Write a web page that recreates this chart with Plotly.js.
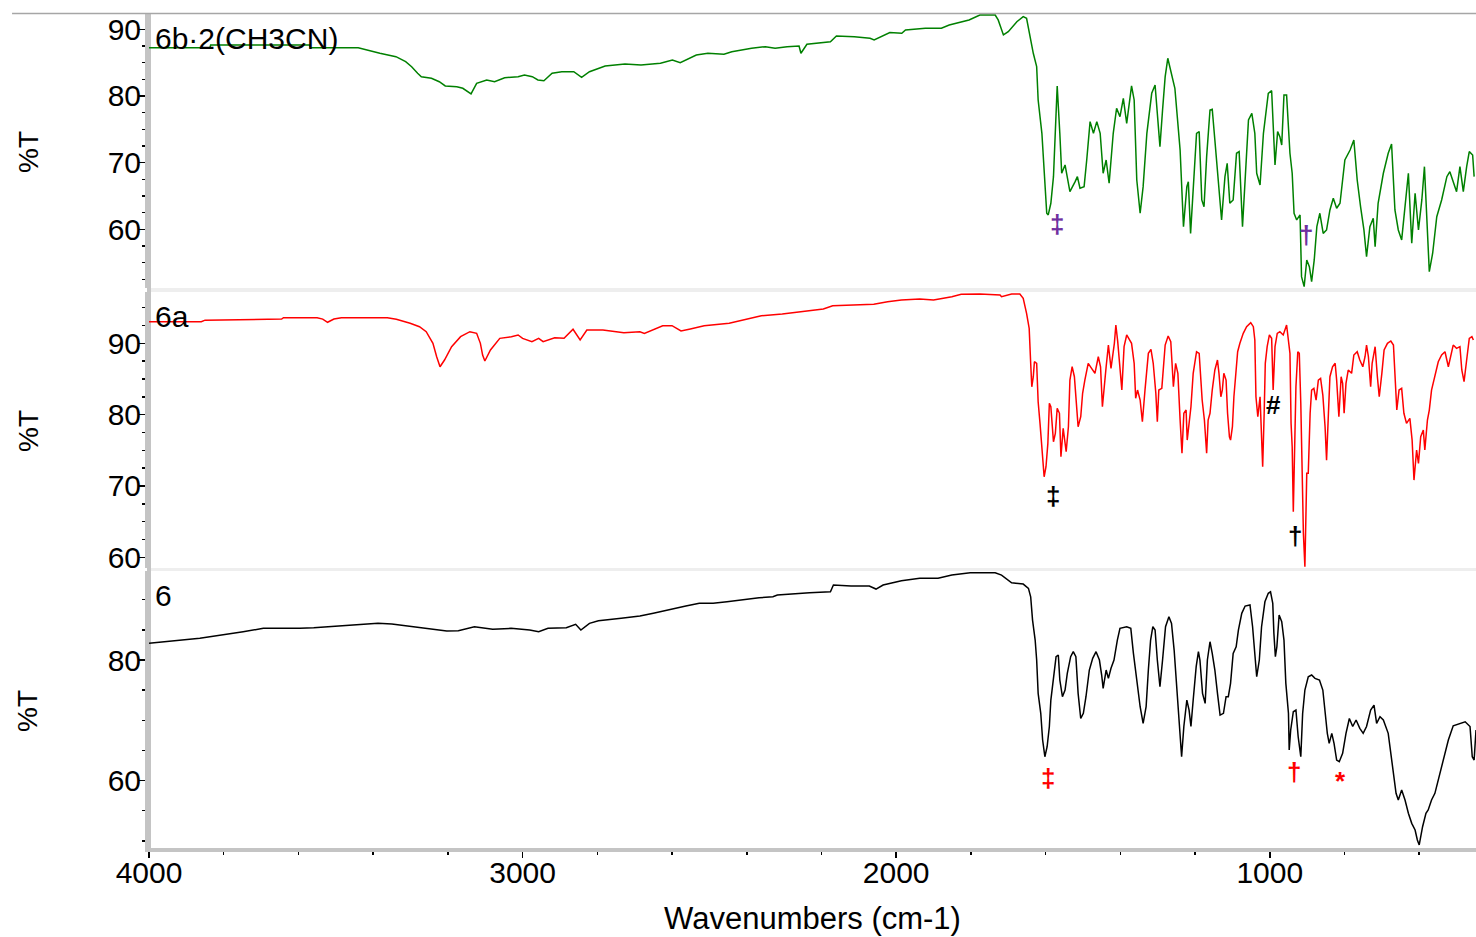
<!DOCTYPE html>
<html><head><meta charset="utf-8">
<script src="https://cdn.plot.ly/plotly-3.0.1.min.js"></script>
<style>html,body{margin:0;padding:0;background:#fff}#chart{width:1476px;height:937px}</style>
</head><body><div id="chart"></div>
<script>
// ---------- data: wavenumber (cm-1) and %T ----------
const topLabel = '6b\u00b72(CH3CN)';
const midLabel = '6a';
const botLabel = '6';

const topWn = [4000, 3837, 3835, 3570, 3568, 3440, 3382, 3339, 3313, 3297,
  3281, 3271, 3244, 3223, 3207, 3176, 3160, 3138, 3123, 3096,
  3075, 3048, 3012, 2995, 2974, 2959, 2943, 2921, 2895, 2863,
  2842, 2821, 2779, 2726, 2683, 2631, 2599, 2578, 2535, 2504,
  2461, 2440, 2387, 2350, 2324, 2292, 2260, 2255, 2239, 2186,
  2176, 2160, 2112, 2070, 2059, 2017, 1985, 1975, 1922, 1879,
  1858, 1805,
  1776, 1735, 1727, 1713, 1700, 1677, 1660, 1651, 1642, 1633,
  1624, 1620, 1610, 1602, 1597, 1593, 1586, 1579, 1572, 1569,
  1562, 1557, 1548, 1542, 1535, 1521, 1515, 1508, 1497, 1490,
  1481, 1472, 1463, 1454, 1446, 1438, 1430, 1419, 1410, 1401,
  1392, 1383, 1370, 1363, 1356, 1347, 1339, 1329, 1316, 1307,
  1298, 1294, 1287, 1280, 1273, 1263, 1254, 1240, 1231, 1222,
  1218, 1212, 1205, 1196, 1189, 1182, 1176, 1169, 1160, 1154,
  1147, 1138, 1129, 1120, 1114, 1107, 1098, 1089, 1082, 1073,
  1066, 1057, 1048, 1040, 1035, 1026, 1017, 1004, 995, 989,
  986, 979, 973, 968, 962, 955, 946, 940, 935, 928,
  919, 915, 908, 901, 894, 888, 881, 874, 866, 857,
  848, 839, 830, 821, 812, 799, 785, 775, 766, 757,
  748, 741, 732, 723, 718, 710, 696, 683, 674, 665,
  656, 647, 638, 629, 620, 611, 602, 593, 586, 580,
  573, 564, 553, 540, 526, 518, 509, 500, 491, 482,
  473, 466, 457, 453];
const topT = [87.24, 87.24, 87.65, 87.65, 87.24, 87.24, 86.4, 85.89, 85.14, 84.39,
  83.4, 82.89, 82.65, 82.14, 81.5, 81.39, 81.15, 80.3, 81.9, 82.4,
  82.14, 82.74, 82.89, 83.15, 82.89, 82.4, 82.29, 83.4, 83.64, 83.64,
  82.8, 83.64, 84.5, 84.8, 84.65, 84.9, 85.4, 84.99, 86.15, 86.4,
  86.25, 86.64, 87.15, 87.39, 87.15, 87.39, 87.5, 86.4, 87.75, 88.05,
  88.14, 88.99, 88.89, 88.65, 88.4, 89.5, 89.4, 89.9, 90.15, 90.15,
  90.64, 91.39,
  92.14, 92.14, 91.4, 89.15, 89.64, 91.14, 91.89, 91.65, 88.89, 86.4,
  84.39, 79.4, 74.4, 66.9, 62.41, 62.16, 63.91, 67.9, 76.9, 81.5,
  74.4, 68.41, 69.65, 67.9, 65.65, 67.15, 67.9, 66.16, 66.4, 70.4,
  76.15, 74.4, 76.15, 74.4, 68.41, 70.4, 66.91, 74.4, 78.16, 76.9,
  79.65, 75.9, 81.5, 79.4, 67.4, 62.41, 66.4, 74.4, 80.4, 81.65,
  74.4, 72.4, 77.9, 82.89, 85.65, 83.15, 81.15, 71.9, 60.4, 66.4,
  67.15, 59.4, 66.4, 74.4, 74.65, 64.41, 63.4, 70.9, 77.9, 78.0,
  73.4, 67.4, 61.41, 67.9, 69.91, 63.91, 64.41, 71.41, 71.65, 60.4,
  67.4, 76.4, 77.4, 74.4, 68.41, 66.66, 74.4, 80.4, 80.79, 74.4,
  69.65, 74.65, 73.9, 72.65, 80.15, 80.15, 71.41, 68.41, 62.41, 61.41,
  62.16, 52.91, 51.41, 55.41, 54.41, 52.16, 55.41, 60.4, 62.41, 59.4,
  59.91, 62.91, 64.66, 63.16, 63.91, 70.4, 71.9, 73.4, 67.4, 63.4,
  59.91, 55.9, 60.4, 61.66, 57.41, 63.91, 68.41, 71.41, 72.8, 62.91,
  59.91, 58.41, 63.4, 68.41, 57.91, 65.41, 59.91, 64.41, 69.4, 62.41,
  53.66, 56.42, 61.9, 64.41, 67.9, 68.65, 67.15, 65.65, 69.4, 65.65,
  69.4, 71.65, 71.15, 67.9];

const midWn = [4000, 3860, 3850, 3790, 3740, 3645, 3640, 3550, 3535, 3522,
  3505, 3485, 3362, 3338, 3301, 3276, 3258, 3240, 3230, 3221,
  3209, 3190, 3166, 3141, 3123, 3113, 3107, 3101, 3086, 3061,
  3030, 3012, 3000, 2975, 2957, 2945, 2914, 2889, 2865, 2846,
  2828, 2785, 2729, 2686, 2674, 2625, 2600, 2576, 2551, 2514,
  2447, 2391, 2361, 2305, 2256, 2195, 2170, 2109, 2060, 2023,
  1986, 1937, 1900, 1851, 1826,
  1776, 1722, 1718, 1691, 1669, 1660, 1651, 1644, 1640, 1637,
  1633, 1630, 1624, 1620, 1615, 1611, 1608, 1604, 1599, 1594,
  1590, 1586, 1579, 1574, 1569, 1563, 1559, 1553, 1545, 1539,
  1535, 1529, 1523, 1517, 1513, 1506, 1501, 1495, 1486, 1477,
  1468, 1459, 1453, 1448, 1444, 1438, 1432, 1425, 1416, 1412,
  1407, 1401, 1396, 1390, 1383, 1370, 1363, 1359, 1354, 1347,
  1341, 1334, 1325, 1318, 1312, 1305, 1301, 1297, 1289, 1280,
  1272, 1265, 1258, 1252, 1246, 1240, 1235, 1230, 1224, 1221,
  1215, 1211, 1205, 1196, 1189, 1185, 1181, 1175, 1169, 1165,
  1160, 1154, 1147, 1140, 1136, 1131, 1127, 1123, 1117, 1113,
  1108, 1105, 1100, 1096, 1090, 1086, 1080, 1071, 1062, 1051,
  1044, 1040, 1037, 1032, 1026, 1022, 1019, 1015, 1012, 1007,
  1001, 995, 991, 986, 980, 973, 964, 955, 950, 946,
  943, 940, 937, 933, 930, 925, 921, 917, 914, 910,
  906, 901, 897, 892, 888, 882, 876, 870, 864, 858,
  852, 848, 843, 839, 832, 825, 821, 815, 809, 805,
  801, 796, 790, 781, 775, 766, 759, 751, 745, 741,
  736, 730, 726, 718, 712, 707, 700, 694, 685, 676,
  669, 665, 660, 654, 647, 641, 634, 625, 619, 614,
  607, 602, 596, 589, 585, 578, 573, 567, 558, 549,
  540, 531, 522, 515, 509, 500, 491, 486, 480, 473,
  466, 459, 455];
const midT = [93.03, 93.03, 93.25, 93.3, 93.41, 93.41, 93.59, 93.59, 93.4, 92.95,
  93.4, 93.6, 93.6, 93.37, 92.81, 92.33, 91.63, 90.0, 88.12, 86.72,
  87.66, 89.53, 90.93, 91.63, 91.4, 90.0, 88.36, 87.52, 89.06, 90.7,
  90.93, 91.17, 90.7, 90.23, 90.7, 90.23, 90.79, 90.7, 91.97, 90.47,
  91.87, 91.87, 91.49, 91.63, 91.4, 92.47, 92.47, 91.73, 92.01, 92.47,
  92.81, 93.51, 93.87, 94.11, 94.43, 94.81, 95.28, 95.37, 95.47, 95.84,
  96.08, 96.22, 96.08, 96.54, 96.88,
  96.92, 96.78, 96.54, 96.92, 96.92, 96.31, 94.21, 92.1, 87.2, 83.91,
  85.32, 87.42, 87.2, 81.81, 78.78, 75.74, 73.17, 71.29, 72.7, 75.98,
  81.59, 81.11, 76.2, 77.38, 80.89, 80.19, 74.1, 78.08, 74.8, 78.31,
  84.85, 86.72, 85.32, 80.19, 78.31, 79.71, 83.0, 84.85, 87.2, 86.5,
  85.8, 88.12, 86.72, 81.11, 83.0, 86.72, 89.76, 86.5, 90.0, 92.57,
  90.23, 86.26, 83.45, 89.53, 91.17, 90.0, 87.2, 82.29, 83.45, 82.05,
  79.01, 83.45, 88.6, 89.16, 87.2, 83.0, 79.01, 83.45, 83.69, 89.76,
  91.03, 90.23, 83.91, 87.2, 85.8, 79.25, 74.58, 80.19, 80.65, 76.44,
  79.71, 81.11, 85.8, 88.82, 88.6, 85.32, 82.05, 79.25, 74.58, 79.25,
  80.19, 83.45, 86.26, 87.66, 85.8, 82.51, 83.45, 85.8, 84.85, 80.19,
  76.9, 76.44, 78.31, 82.51, 86.96, 88.82, 90.0, 91.4, 92.33, 92.89,
  92.33, 90.47, 82.51, 79.71, 82.51, 75.04, 72.7, 80.19, 87.2, 89.53,
  91.17, 90.7, 83.45, 89.53, 91.4, 91.63, 91.17, 92.57, 90.23, 88.6,
  78.78, 75.5, 66.39, 77.84, 83.91, 88.82, 88.6, 81.59, 71.29, 63.35,
  58.67, 71.77, 71.77, 80.19, 83.45, 83.69, 82.05, 84.85, 85.09, 82.75,
  78.31, 73.63, 80.19, 85.32, 86.72, 87.2, 84.85, 79.71, 85.32, 84.39,
  80.19, 84.39, 86.26, 85.8, 88.36, 88.82, 87.66, 86.72, 88.12, 89.76,
  88.12, 83.91, 87.2, 89.53, 85.32, 82.51, 85.8, 89.06, 90.0, 90.33,
  89.76, 85.8, 80.65, 83.45, 83.69, 80.19, 78.78, 79.48, 76.44, 70.83,
  75.04, 73.17, 76.9, 77.84, 75.04, 79.25, 80.65, 83.45, 85.32, 87.42,
  88.36, 88.82, 86.72, 88.36, 89.76, 89.3, 89.53, 86.26, 84.62, 87.66,
  90.7, 90.93, 90.47];

const botWn = [4000, 3864, 3748, 3694, 3596, 3559, 3454, 3387, 3350, 3289,
  3227, 3203, 3172, 3129, 3080, 3031, 2981, 2957, 2932, 2883,
  2858, 2844, 2821, 2797, 2736, 2686, 2650, 2613, 2563, 2527,
  2490, 2453, 2416, 2367, 2330, 2318, 2232, 2176, 2168, 2121,
  2072, 2054, 2035, 1986, 1937, 1888, 1851, 1802,
  1776, 1735, 1718, 1691, 1660, 1646, 1640, 1635, 1628, 1624,
  1620, 1613, 1608, 1602, 1596, 1590, 1586, 1579, 1572, 1566,
  1562, 1555, 1548, 1542, 1533, 1526, 1519, 1513, 1506, 1499,
  1492, 1483, 1474, 1465, 1456, 1450, 1446, 1438, 1432, 1425,
  1417, 1408, 1401, 1383, 1372, 1365, 1356, 1347, 1339, 1331,
  1325, 1319, 1313, 1307, 1301, 1294, 1287, 1279, 1270, 1263,
  1256, 1249, 1242, 1236, 1230, 1222, 1216, 1211, 1205, 1197,
  1191, 1187, 1180, 1173, 1167, 1160, 1154, 1147, 1140, 1133,
  1124, 1117, 1111, 1105, 1098, 1090, 1084, 1075, 1066, 1053,
  1046, 1040, 1035, 1028, 1022, 1013, 1004, 998, 992, 989,
  985, 981, 975, 968, 962, 957, 950, 948, 944, 937,
  930, 924, 917, 912, 906, 897, 888, 879, 867, 858,
  852, 846, 841, 834, 828, 821, 814, 805, 796, 787,
  778, 769, 759, 750, 741, 730, 721, 714, 705, 696,
  683, 669, 662, 656, 647, 638, 629, 620, 611, 605,
  600, 591, 582, 576, 567, 558, 549, 536, 522, 509,
  491, 477, 464, 458, 453, 448];
const botT = [82.8, 83.6, 84.7, 85.25, 85.25, 85.35, 85.8, 86.08, 85.97, 85.52,
  85.09, 84.81, 84.86, 85.52, 85.09, 85.25, 84.97, 84.69, 85.25, 85.35,
  85.92, 84.97, 86.08, 86.51, 86.91, 87.29, 87.74, 88.29, 88.95, 89.4,
  89.4, 89.66, 89.95, 90.33, 90.49, 90.77, 91.16, 91.32, 92.44, 92.27,
  92.27, 91.77, 92.44, 93.15, 93.55, 93.55, 94.09, 94.47,
  94.47, 94.47, 94.09, 92.81, 92.6, 91.88, 90.49, 86.63, 83.31, 80.0,
  74.47, 71.16, 66.73, 63.96, 65.62, 68.97, 73.36, 77.23, 80.55, 80.83,
  76.68, 73.91, 75.02, 77.79, 80.55, 81.38, 80.55, 74.47, 70.3, 71.16,
  73.91, 78.34, 80.28, 81.38, 80.0, 77.51, 75.3, 78.34, 76.96, 78.62,
  80.0, 83.31, 85.25, 85.52, 85.25, 81.1, 76.13, 72.25, 69.5, 72.25,
  78.34, 83.31, 85.52, 84.97, 80.0, 75.57, 80.0, 85.52, 87.18, 86.08,
  81.65, 75.57, 70.05, 63.96, 68.97, 73.36, 71.7, 68.97, 73.36, 78.89,
  81.38, 80.0, 74.47, 72.81, 80.0, 83.03, 81.1, 78.34, 74.47, 70.87,
  71.16, 73.91, 73.91, 76.13, 81.1, 82.2, 84.97, 87.74, 88.95, 89.12,
  85.52, 80.0, 77.23, 80.0, 85.52, 89.66, 91.06, 91.32, 89.4, 84.42,
  80.55, 82.2, 87.46, 86.35, 83.31, 76.13, 71.16, 65.07, 68.39, 71.42,
  71.7, 67.27, 63.96, 71.16, 75.02, 77.23, 77.51, 76.96, 76.68, 75.02,
  71.16, 67.84, 66.18, 67.84, 66.18, 63.41, 63.13, 64.52, 67.84, 70.3,
  68.97, 70.05, 68.67, 67.84, 68.97, 71.7, 72.53, 69.5, 70.6, 70.05,
  67.84, 61.2, 57.89, 56.78, 58.44, 56.78, 54.58, 52.91, 51.8, 50.15,
  49.32, 52.35, 54.58, 55.12, 56.78, 57.89, 60.1, 63.41, 66.73, 69.1,
  69.5, 69.76, 68.97, 63.96, 63.41, 68.39];

// band-assignment marks (symbol, wavenumber, %T on that panel's scale)
const topMarkSym = ['\u2021', '\u2020'];
const topMarkWn = [1570, 903];
const topMarkT = [60.8, 59.2];
const midMarkSym = ['\u2021', '#', '\u2020'];
const midMarkWn = [1581, 990, 932];
const midMarkT = [68.6, 81.35, 62.98];
const botMarkSym = ['\u2021', '\u2020', '*'];
const botMarkWn = [1594, 935, 810];
const botMarkT = [60.4, 61.4, 60.0];

const xTickVals = [4000, 3000, 2000, 1000];
const xTickText = ['4000', '3000', '2000', '1000'];

// ---------- checks ----------
[[topWn, topT], [midWn, midT], [botWn, botT]].forEach(function (p, i) {
  if (p[0].length !== p[1].length) throw new Error('length mismatch ' + i + ': ' + p[0].length + ' vs ' + p[1].length);
});

// ---------- figure ----------
const FONT = 'Liberation Sans, Arial, sans-serif';
const AXGRAY = '#c4c4c4';

const traces = [
  {x: topWn, y: topT, xaxis: 'x', yaxis: 'y3', mode: 'lines', line: {color: '#008000', width: 1.5}, hoverinfo: 'skip'},
  {x: midWn, y: midT, xaxis: 'x', yaxis: 'y2', mode: 'lines', line: {color: '#ff0000', width: 1.5}, hoverinfo: 'skip'},
  {x: botWn, y: botT, xaxis: 'x', yaxis: 'y', mode: 'lines', line: {color: '#000000', width: 1.5}, hoverinfo: 'skip'}
];

function yax(domain, range, dtick, minorDtick) {
  return {
    domain: domain, range: range, anchor: 'x', side: 'left',
    showline: true, linecolor: AXGRAY, linewidth: 4,
    ticks: 'outside', ticklen: 6, tickwidth: 1.5, tickcolor: '#000',
    tick0: 0, dtick: dtick,
    minor: {tick0: 0, dtick: minorDtick, ticks: 'outside', ticklen: 3, tickwidth: 1.5, tickcolor: '#000', showgrid: false},
    showgrid: false, zeroline: false,
    ticklabelstandoff: -8,
    tickfont: {family: FONT, size: 30, color: '#000'},
    fixedrange: true
  };
}

function marks(sym, wn, t, yref, color) {
  return sym.map(function (s, i) {
    return {text: '<b>' + s + '</b>', x: wn[i], y: t[i], xref: 'x', yref: yref, showarrow: false,
      font: {family: FONT, size: 26, color: color}, xanchor: 'center', yanchor: 'middle'};
  });
}

const annotations = [].concat(
  marks(topMarkSym, topMarkWn, topMarkT, 'y3', '#7030a0'),
  marks(midMarkSym, midMarkWn, midMarkT, 'y2', '#000000'),
  marks(botMarkSym, botMarkWn, botMarkT, 'y', '#ff0000'),
  [
    {text: topLabel, xref: 'paper', yref: 'paper', x: 0, y: 0.9712, xanchor: 'left', yanchor: 'middle', xshift: 4, showarrow: false, font: {family: FONT, size: 30, color: '#000'}},
    {text: midLabel, xref: 'paper', yref: 'paper', x: 0, y: 0.6367, xanchor: 'left', yanchor: 'middle', xshift: 4, showarrow: false, font: {family: FONT, size: 30, color: '#000'}},
    {text: botLabel, xref: 'paper', yref: 'paper', x: 0, y: 0.3022, xanchor: 'left', yanchor: 'middle', xshift: 4, showarrow: false, font: {family: FONT, size: 30, color: '#000'}},
    {text: '%T', xref: 'paper', yref: 'paper', x: -0.0912, y: 0.8345, textangle: -90, xanchor: 'center', yanchor: 'middle', showarrow: false, font: {family: FONT, size: 28, color: '#000'}},
    {text: '%T', xref: 'paper', yref: 'paper', x: -0.0912, y: 0.5, textangle: -90, xanchor: 'center', yanchor: 'middle', showarrow: false, font: {family: FONT, size: 28, color: '#000'}},
    {text: '%T', xref: 'paper', yref: 'paper', x: -0.0912, y: 0.1643, textangle: -90, xanchor: 'center', yanchor: 'middle', showarrow: false, font: {family: FONT, size: 28, color: '#000'}}
  ]
);

const shapes = [
  {type: 'rect', xref: 'paper', yref: 'paper', x0: 0, x1: 1, y0: 0.6667, y1: 0.6715, fillcolor: '#eeeeee', line: {width: 0}, layer: 'below'},
  {type: 'rect', xref: 'paper', yref: 'paper', x0: 0, x1: 1, y0: 0.3321, y1: 0.3357, fillcolor: '#eeeeee', line: {width: 0}, layer: 'below'},
  {type: 'line', xref: 'paper', yref: 'paper', x0: -0.1032, x1: 1, y0: 1.0006, y1: 1.0006, line: {color: '#a6a6a6', width: 1.5}},
  {type: 'line', xref: 'paper', yref: 'paper', x0: 0, x1: 0, y0: 0, y1: 1, line: {color: AXGRAY, width: 4}, layer: 'below'}
];

const layout = {
  width: 1476, height: 937,
  margin: {l: 149, r: 0, t: 14, b: 89, pad: 0},
  paper_bgcolor: '#ffffff', plot_bgcolor: '#ffffff',
  showlegend: false,
  font: {family: FONT, size: 30, color: '#000'},
  xaxis: {
    domain: [0, 1], range: [4000, 448], anchor: 'y',
    tickmode: 'array', tickvals: xTickVals, ticktext: xTickText,
    showline: true, linecolor: AXGRAY, linewidth: 4,
    ticks: 'outside', ticklen: 6, tickwidth: 1.5, tickcolor: '#000',
    minor: {tick0: 0, dtick: 200, ticks: 'outside', ticklen: 3, tickwidth: 1.5, tickcolor: '#000', showgrid: false},
    showgrid: false, zeroline: false,
    ticklabelstandoff: -11,
    tickfont: {family: FONT, size: 30, color: '#000'},
    title: {text: 'Wavenumbers (cm-1)', font: {family: FONT, size: 31, color: '#000'}, standoff: 20},
    fixedrange: true
  },
  yaxis: yax([0, 0.3321], [48.82, 94.76], 20, 5),
  yaxis2: yax([0.3357, 0.6667], [58.5, 97.2], 10, 2.5),
  yaxis3: yax([0.6715, 1], [51.21, 92.29], 10, 2.5),
  annotations: annotations,
  shapes: shapes
};

Plotly.newPlot('chart', traces, layout, {staticPlot: true, displayModeBar: false});
</script></body></html>
